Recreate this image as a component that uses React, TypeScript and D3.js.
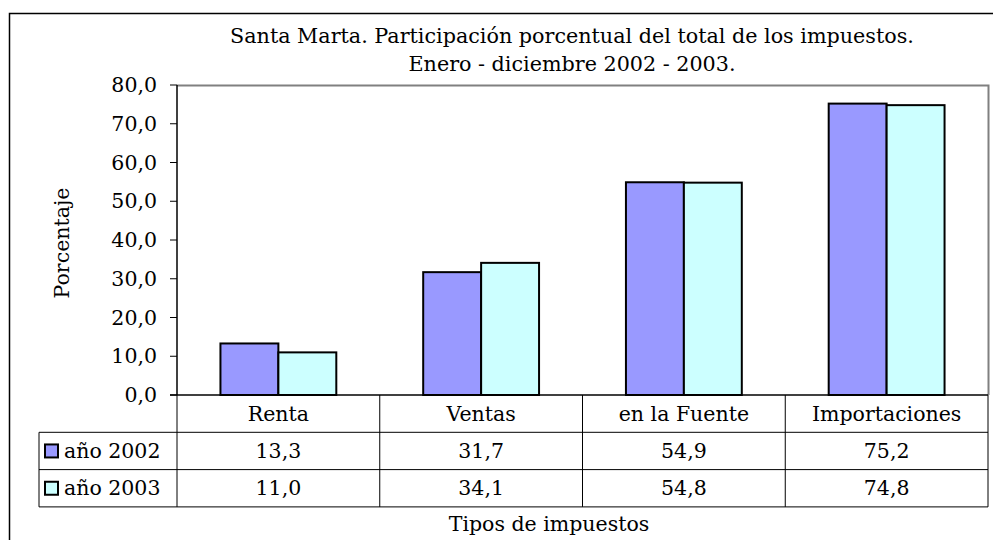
import React from "react";
import * as d3 from "d3";

const categories = ["Renta", "Ventas", "en la Fuente", "Importaciones"];
const seriesNames = ["año 2002", "año 2003"];
const values2002 = [13.3, 31.7, 54.9, 75.2];
const values2003 = [11.0, 34.1, 54.8, 74.8];
const yTicks = [0, 10, 20, 30, 40, 50, 60, 70, 80];
const titleLines = [
  "Santa Marta. Participación porcentual del total de los impuestos.",
  "Enero - diciembre 2002 - 2003.",
];
const yTitle = "Porcentaje";
const xTitle = "Tipos de impuestos";
const colors = ["#9999FF", "#CCFFFF"];

const W = 993;
const H = 540;
const FONT = '"DejaVu Serif", "Liberation Serif", serif';
const FS = 20.5;

export default function App() {
  const left = 177;
  const right = 988;
  const top = 85;
  const bottom = 395;
  const rowH = 37.3;
  const tableLeft = 39;

  const y = d3.scaleLinear().domain([0, 80]).range([bottom, top]);
  const x0 = d3.scaleBand<string>().domain(categories).range([left, right]).paddingInner(0).paddingOuter(0);
  const bw = x0.bandwidth();
  const barW = bw / 3.5;
  const x1 = d3
    .scaleBand<number>()
    .domain([0, 1])
    .range([bw / 2 - barW, bw / 2 + barW]);
  const fmt = (v: number) => v.toFixed(1).replace(".", ",");
  const series = [values2002, values2003];

  const r1 = bottom + rowH;
  const r2 = r1 + rowH;
  const r3 = r2 + rowH;
  const ts = { fontFamily: FONT, fontSize: FS } as React.CSSProperties;
  const tts = { fontFamily: FONT, fontSize: 20.7 } as React.CSSProperties;

  return (
    <svg
      width={W}
      height={H}
      style={{ position: "absolute", left: 0, top: 0, background: "#fff", fontFamily: FONT }}
    >
      <rect x={0} y={0} width={W} height={H} fill="#fff" />
      <rect x={9.5} y={13.5} width={1100} height={700} fill="none" stroke="#000" strokeWidth={1.5} />

      {titleLines.map((t, i) => (
        <text key={i} x={572} y={36 + i * 28} dy="0.35em" textAnchor="middle" style={tts} fill="#000">
          {t}
        </text>
      ))}

      <path d={`M${left},${top + 0.5}H${right + 0.5}V${bottom}`} fill="none" stroke="#808080" strokeWidth={2} />

      {categories.map((c, ci) =>
        series.map((s, si) => {
          const bx = (x0(c) as number) + (x1(si) as number);
          return (
            <rect
              key={c + si}
              x={bx}
              y={y(s[ci])}
              width={x1.bandwidth()}
              height={bottom - y(s[ci])}
              fill={colors[si]}
              stroke="#000"
              strokeWidth={2}
            />
          );
        })
      )}

      <line x1={left} x2={left} y1={top} y2={bottom} stroke="#000" strokeWidth={1.5} />
      {yTicks.map((t) => (
        <g key={t}>
          <line x1={170} x2={left} y1={y(t)} y2={y(t)} stroke="#000" strokeWidth={1} />
          <text x={157} y={y(t)} dy="0.35em" textAnchor="end" style={ts} fill="#000">
            {fmt(t)}
          </text>
        </g>
      ))}
      <text
        transform={`translate(62,${(top + bottom) / 2 + 3}) rotate(-90)`}
        dy="0.35em"
        textAnchor="middle"
        style={ts}
        fill="#000"
      >
        {yTitle}
      </text>

      <line x1={170} x2={right} y1={bottom} y2={bottom} stroke="#000" strokeWidth={1.5} />
      <line x1={tableLeft} x2={right} y1={r1} y2={r1} stroke="#000" strokeWidth={1} />
      <line x1={tableLeft} x2={right} y1={r2} y2={r2} stroke="#000" strokeWidth={1} />
      <line x1={tableLeft} x2={right} y1={r3} y2={r3} stroke="#000" strokeWidth={1} />
      <line x1={tableLeft} x2={tableLeft} y1={r1} y2={r3} stroke="#000" strokeWidth={1} />
      {categories.map((c) => (
        <line key={c} x1={x0(c) as number} x2={x0(c) as number} y1={bottom} y2={r3} stroke="#000" strokeWidth={1} />
      ))}
      <line x1={right} x2={right} y1={bottom} y2={r3} stroke="#000" strokeWidth={1} />
      {categories.map((c) => (
        <text key={c} x={(x0(c) as number) + bw / 2} y={bottom + rowH / 2} dy="0.35em" textAnchor="middle" style={ts} fill="#000">
          {c}
        </text>
      ))}
      {series.map((s, si) => {
        const cy = r1 + rowH * si + rowH / 2;
        return (
          <g key={si}>
            <rect x={45} y={cy - 6.5} width={13} height={13} fill={colors[si]} stroke="#000" strokeWidth={2} />
            <text x={64} y={cy} dy="0.35em" style={ts} fill="#000">
              {seriesNames[si]}
            </text>
            {categories.map((c, ci) => (
              <text key={c} x={(x0(c) as number) + bw / 2} y={cy} dy="0.35em" textAnchor="middle" style={ts} fill="#000">
                {fmt(s[ci])}
              </text>
            ))}
          </g>
        );
      })}
      <text x={549} y={524} dy="0.35em" textAnchor="middle" style={ts} fill="#000">
        {xTitle}
      </text>
    </svg>
  );
}
